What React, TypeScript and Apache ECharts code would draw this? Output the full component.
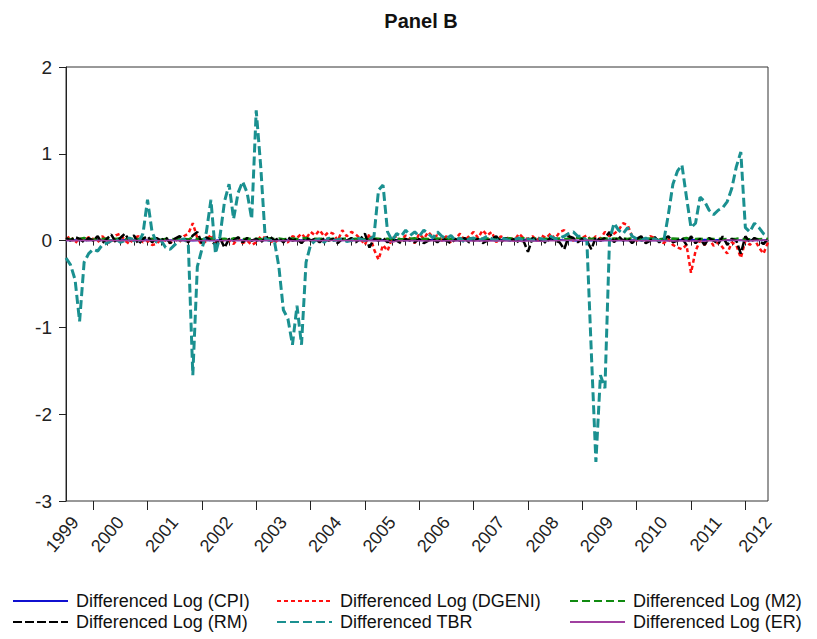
import React, { useEffect, useRef } from "react";
import * as echarts from "echarts";

// Monthly observations, July 1999 .. June 2012 (156 months)
const START_YEAR = 1999;
const START_MONTH = 7;
const N_MONTHS = 156;
const months: string[] = [];
for (let i = 0; i < N_MONTHS; i++) {
  const m0 = START_MONTH - 1 + i;
  const y = START_YEAR + Math.floor(m0 / 12);
  const m = (m0 % 12) + 1;
  months.push(`${y}-${m < 10 ? "0" + m : m}`);
}

const cpi = [
  0.004, 0.006, 0.005, 0.003, 0.007, 0.005,
  0.008, 0.006, 0.004, 0.005, 0.003, 0.002, 0.004, 0.006, 0.005, 0.003, 0.004, 0.006,
  0.005, 0.004, 0.002, 0.003, 0.006, 0.004, 0.003, 0.005, 0.007, 0.004, 0.002, 0.003,
  0.004, 0.006, 0.003, 0.002, 0.004, 0.005, 0.003, 0.004, 0.006, 0.005, 0.003, 0.004,
  0.005, 0.007, 0.004, 0.003, 0.002, 0.004, 0.005, 0.003, 0.006, 0.004, 0.005, 0.006,
  0.006, 0.005, 0.007, 0.004, 0.006, 0.008, 0.005, 0.004, 0.006, 0.007, 0.005, 0.004,
  0.006, 0.008, 0.005, 0.004, 0.006, 0.005, 0.007, 0.006, 0.008, 0.005, 0.004, 0.006,
  0.005, 0.004, 0.006, 0.007, 0.005, 0.004, 0.003, 0.005, 0.006, 0.004, 0.005, 0.007,
  0.006, 0.005, 0.007, 0.008, 0.006, 0.009, 0.010, 0.008, 0.007, 0.009, 0.011, 0.010,
  0.012, 0.010, 0.013, 0.011, 0.014, 0.012, 0.010, 0.008, 0.005, 0.003, 0.001, -0.002,
  0.002, 0.003, 0.001, 0.004, 0.002, 0.003, 0.004, 0.002, 0.003, 0.005, 0.004, 0.003,
  0.005, 0.004, 0.006, 0.003, 0.005, 0.004, 0.006, 0.005, 0.004, 0.006, 0.007, 0.005,
  0.006, 0.008, 0.007, 0.009, 0.006, 0.005, 0.007, 0.006, 0.005, 0.004, 0.006, 0.005,
  0.004, 0.005, 0.006, 0.004, 0.003, 0.005,
];

const dgeni = [
  0.02, 0.05, -0.03, 0.03, 0.0, 0.04,
  0.02, -0.02, 0.05, 0.0, -0.03, 0.06, 0.08, 0.0, -0.04, 0.03, 0.05, -0.02,
  0.0, -0.05, -0.04, 0.02, 0.0, -0.03, 0.02, -0.02, 0.05, 0.08, 0.2, 0.03,
  -0.05, 0.0, 0.07, -0.02, -0.03, 0.02, 0.0, -0.04, 0.03, -0.03, 0.0, -0.05,
  -0.02, 0.05, 0.03, 0.0, -0.03, 0.02, 0.0, -0.02, 0.05, 0.03, 0.08, 0.02,
  0.1, 0.06, 0.12, 0.05, 0.1, 0.08, 0.0, 0.12, 0.05, 0.1, 0.07, 0.02,
  -0.05, 0.08, -0.1, -0.22, -0.05, -0.12, 0.03, 0.05, 0.0, 0.06, 0.02, -0.03,
  0.08, 0.02, 0.1, 0.04, 0.06, 0.0, 0.05, -0.03, 0.02, 0.08, 0.0, 0.05,
  0.1, 0.03, 0.12, 0.06, 0.1, -0.02, 0.05, 0.02, 0.04, 0.0, 0.08, 0.03,
  0.02, 0.05, 0.0, 0.06, 0.03, 0.08, 0.02, 0.1, 0.12, 0.05, 0.0, 0.04,
  0.03, 0.06, 0.0, 0.05, 0.02, 0.1, 0.05, 0.08, 0.12, 0.2, 0.18, 0.05,
  0.0, 0.02, -0.02, 0.05, 0.03, 0.0, -0.03, 0.02, -0.05, -0.08, -0.1, -0.05,
  -0.37, -0.12, 0.0, -0.05, 0.02, -0.06, -0.02, -0.08, -0.15, -0.02, -0.05, -0.2,
  0.0, -0.05, 0.02, -0.08, -0.15, -0.02,
];

const m2 = [
  0.02, 0.015, 0.025, 0.018, 0.03, 0.012,
  0.01, 0.022, 0.018, 0.025, 0.015, 0.02, 0.028, 0.012, 0.018, 0.024, 0.016, 0.03,
  0.015, 0.02, 0.025, 0.012, 0.018, 0.022, 0.016, 0.028, 0.02, 0.015, 0.035, 0.018,
  0.012, 0.02, 0.025, 0.015, 0.018, 0.022, 0.01, 0.026, 0.02, 0.016, 0.024, 0.018,
  0.022, 0.015, 0.02, 0.028, 0.018, 0.024, 0.016, 0.02, 0.025, 0.018, 0.022, 0.03,
  0.015, 0.02, 0.018, 0.025, 0.016, 0.022, 0.02, 0.018, 0.024, 0.015, 0.02, 0.028,
  0.012, 0.018, 0.025, 0.02, 0.015, 0.022, 0.018, 0.024, 0.016, 0.02, 0.022, 0.026,
  0.015, 0.02, 0.018, 0.022, 0.025, 0.016, 0.02, 0.018, 0.024, 0.02, 0.016, 0.03,
  0.018, 0.022, 0.02, 0.025, 0.018, 0.024, 0.016, 0.02, 0.026, 0.018, 0.022, 0.028,
  0.015, 0.02, 0.024, 0.018, 0.022, 0.016, 0.02, 0.025, 0.018, 0.022, 0.03, 0.035,
  0.025, 0.03, 0.02, 0.028, 0.022, 0.026, 0.018, 0.024, 0.02, 0.025, 0.018, 0.03,
  0.015, 0.02, 0.018, 0.025, 0.02, 0.016, 0.022, 0.018, 0.024, 0.02, 0.022, 0.03,
  0.012, 0.018, 0.022, 0.016, 0.02, 0.018, 0.024, 0.015, 0.02, 0.018, 0.022, 0.028,
  0.01, 0.016, 0.02, 0.015, 0.018, 0.02,
];

const rm = [
  0.03, 0.0, 0.04, 0.02, -0.02, 0.03,
  0.0, 0.05, -0.03, 0.02, 0.07, -0.02, 0.03, 0.08, 0.0, 0.06, -0.04, 0.02,
  0.05, -0.02, 0.03, 0.0, 0.04, -0.03, 0.02, 0.05, 0.03, -0.02, 0.06, 0.1,
  -0.03, 0.04, 0.0, -0.05, 0.03, -0.08, 0.02, 0.0, 0.04, -0.02, 0.03, 0.0,
  0.02, -0.02, 0.03, 0.05, 0.0, 0.03, -0.02, 0.04, 0.0, 0.02, -0.03, 0.03,
  0.0, 0.02, -0.02, 0.03, 0.0, 0.02, -0.03, 0.02, 0.0, 0.03, -0.02, 0.02,
  0.08, -0.08, 0.02, 0.0, 0.03, -0.02, 0.02, 0.0, -0.03, 0.02, 0.0, -0.02,
  0.02, -0.03, 0.0, 0.02, -0.02, 0.03, 0.0, -0.03, 0.02, 0.0, 0.03, -0.02,
  0.0, 0.02, -0.03, 0.0, 0.02, 0.05, -0.02, 0.03, 0.0, 0.02, -0.02, 0.0,
  -0.13, 0.03, 0.0, 0.02, -0.03, 0.04, 0.0, -0.02, -0.1, 0.05, 0.03, -0.02,
  0.02, 0.0, -0.1, 0.04, 0.0, 0.03, 0.1, -0.02, 0.05, 0.0, 0.03, -0.03,
  0.02, 0.05, -0.03, 0.0, 0.04, -0.02, 0.02, 0.05, -0.02, 0.0, 0.03, -0.05,
  0.05, -0.03, 0.02, -0.05, 0.03, 0.0, -0.04, 0.05, -0.05, 0.02, 0.0, -0.15,
  0.05, -0.02, 0.03, 0.0, -0.04, 0.02,
];

const tbr = [
  -0.2, -0.28, -0.45, -0.93, -0.25, -0.15,
  -0.1, -0.12, -0.05, -0.03, 0.0, 0.02, -0.02, 0.0, 0.03, 0.0, -0.02, 0.08,
  0.47, 0.1, -0.02, 0.0, -0.08, -0.1, -0.05, 0.0, 0.02, -0.03, -1.55, -0.3,
  -0.1, 0.1, 0.47, -0.15, 0.05, 0.45, 0.65, 0.25, 0.55, 0.68, 0.55, 0.25,
  1.5, 0.85, 0.02, 0.0, 0.0, -0.3, -0.8, -0.9, -1.2, -0.75, -1.2, -0.25,
  -0.05, 0.0, 0.02, -0.02, 0.03, 0.0, 0.01, 0.02, -0.01, 0.0, 0.03, 0.02,
  0.0, 0.02, 0.05, 0.58, 0.64, 0.1, 0.0, 0.08, 0.05, 0.12, 0.06, 0.1,
  0.05, 0.12, 0.08, 0.03, 0.1, 0.05, 0.02, 0.06, 0.0, 0.03, -0.02, 0.02,
  0.03, 0.0, 0.02, 0.05, 0.02, 0.0, 0.03, 0.02, 0.0, 0.01, 0.03, 0.0,
  0.02, 0.0, 0.03, 0.02, 0.0, 0.05, 0.02, 0.03, 0.05, 0.08, 0.1, 0.05,
  0.05, 0.0, -1.3, -2.55, -1.55, -1.7, 0.0, 0.2, 0.12, 0.08, 0.15, 0.05,
  0.02, 0.0, 0.03, 0.0, 0.02, 0.0, 0.0, 0.3, 0.65, 0.8, 0.87, 0.5,
  0.15, 0.2, 0.5, 0.45, 0.35, 0.3, 0.35, 0.38, 0.45, 0.6, 0.85, 1.02,
  0.15, 0.1, 0.2, 0.15, 0.08, 0.05,
];

const er = [
  0.0, 0.002, -0.001, 0.001, 0.0, -0.002,
  0.001, 0.0, 0.003, -0.001, 0.002, 0.0, -0.002, 0.001, 0.003, 0.0, 0.002, -0.001,
  0.002, 0.001, 0.0, -0.002, 0.001, 0.003, 0.0, 0.002, -0.001, 0.001, 0.004, 0.0,
  -0.002, 0.001, 0.0, 0.002, -0.003, 0.001, 0.0, -0.002, 0.003, 0.0, -0.001, 0.002,
  0.0, -0.002, 0.001, 0.0, -0.004, -0.002, 0.0, -0.003, -0.001, -0.005, 0.0, -0.002,
  0.001, 0.0, -0.002, 0.001, 0.0, 0.002, -0.001, 0.0, 0.001, -0.002, 0.0, -0.003,
  -0.002, 0.0, -0.001, 0.001, -0.003, 0.0, -0.02, -0.004, 0.0, -0.002, 0.001, -0.001,
  -0.003, -0.001, -0.004, -0.002, 0.0, -0.005, -0.003, -0.002, -0.004, -0.001, -0.003, -0.006,
  -0.004, -0.003, -0.005, -0.002, -0.004, -0.006, -0.003, -0.005, -0.004, -0.007, -0.005, -0.008,
  -0.006, -0.004, -0.008, -0.007, -0.005, -0.003, -0.002, 0.0, 0.005, 0.003, 0.008, 0.004,
  0.002, 0.005, 0.003, 0.001, -0.002, 0.0, 0.002, -0.001, 0.0, 0.001, -0.002, 0.0,
  0.0, -0.001, 0.002, -0.003, 0.0, -0.002, -0.001, -0.004, -0.002, -0.005, -0.003, -0.006,
  -0.004, -0.002, -0.005, -0.007, -0.003, -0.002, -0.004, 0.0, 0.01, 0.006, 0.003, 0.008,
  -0.004, -0.003, 0.002, 0.004, 0.006, 0.002,
];

const NAMES = {
  cpi: "Differenced Log (CPI)",
  dgeni: "Differenced Log (DGENI)",
  m2: "Differenced Log (M2)",
  rm: "Differenced Log (RM)",
  tbr: "Differenced TBR",
  er: "Differenced Log (ER)",
};

const FONT = "'Liberation Sans', Arial, Helvetica, sans-serif";

const monthOf = (idx: number) => ((START_MONTH - 1 + idx) % 12) + 1;

export default function App() {
  const ref = useRef<HTMLDivElement>(null);
  useEffect(() => {
    if (!ref.current) return;
    const chart = echarts.init(ref.current, undefined, { renderer: "svg" });
    const mk = (name: string, data: number[], color: string, type: any, width: number) => ({
      name,
      type: "line",
      data,
      xAxisIndex: 0,
      symbol: "none",
      showSymbol: false,
      lineStyle: { color, width, type },
      itemStyle: { color },
      emphasis: { disabled: true },
      z: 2,
    });
    const legendBase = {
      orient: "vertical",
      top: 592,
      height: 47,
      padding: 0,
      itemGap: 3,
      itemWidth: 55,
      itemHeight: 14,
      itemStyle: { color: "rgba(0,0,0,0)", borderColor: "rgba(0,0,0,0)", borderWidth: 0, opacity: 0 },
      textStyle: { fontSize: 18, fontFamily: FONT, color: "#111", padding: [0, 0, 0, 3] },
      selectedMode: false,
    };
    chart.setOption({
      animation: false,
      backgroundColor: "#fff",
      title: {
        text: "Panel B",
        left: 416,
        textAlign: "center",
        top: 6,
        textStyle: { fontSize: 20, fontWeight: "bold", fontFamily: FONT, color: "#111" },
      },
      grid: { left: 66, right: 49, top: 67, bottom: 138, show: true, borderColor: "#333", borderWidth: 1 },
      legend: [
        { ...legendBase, left: 12, data: [NAMES.cpi, NAMES.rm] },
        { ...legendBase, left: 276, data: [NAMES.dgeni, NAMES.tbr] },
        { ...legendBase, left: 569, data: [NAMES.m2, NAMES.er] },
      ],
      xAxis: [
        {
          type: "category",
          data: months,
          boundaryGap: false,
          position: "bottom",
          axisLine: { show: true, lineStyle: { color: "#222", width: 1 } },
          axisTick: { show: true, length: 5, interval: (idx: number) => (monthOf(idx) - 1) % 3 === 0, lineStyle: { color: "#222" } },
          axisLabel: {
            show: true,
            rotate: 50,
            margin: 18,
            fontSize: 18,
            fontFamily: FONT,
            color: "#222",
            interval: (idx: number) =>
              idx === 2 || idx === N_MONTHS - 1 || (idx > 0 && monthOf(idx) === 7),
            formatter: (v: string) => v.slice(0, 4),
          },
          splitLine: { show: false },
        },
        {
          type: "category",
          data: months,
          boundaryGap: false,
          position: "bottom",
          offset: 0,
          axisLine: { show: false },
          axisTick: { show: true, length: 9, interval: (idx: number) => monthOf(idx) === 1, lineStyle: { color: "#222" } },
          axisLabel: { show: false },
          splitLine: { show: false },
        },
      ],
      yAxis: {
        type: "value",
        min: -3,
        max: 2,
        interval: 1,
        axisLine: { show: true, lineStyle: { color: "#222", width: 1 } },
        axisTick: { show: true, length: 7, lineStyle: { color: "#222" } },
        axisLabel: { fontSize: 19, fontFamily: FONT, color: "#222", margin: 14 },
        splitLine: { show: false },
      },
      series: [
        mk(NAMES.cpi, cpi, "#1010d0", "solid", 2),
        mk(NAMES.dgeni, dgeni, "#ff1010", [4, 3], 2.5),
        mk(NAMES.m2, m2, "#108a10", [8, 4], 2.5),
        mk(NAMES.rm, rm, "#000000", [9, 3], 2.5),
        mk(NAMES.tbr, tbr, "#1a9090", [9, 4], 3),
        mk(NAMES.er, er, "#a040a0", "solid", 1.5),
      ],
    });
    return () => chart.dispose();
  }, []);
  return (
    <div
      ref={ref}
      style={{ position: "fixed", left: 0, top: 0, width: 817, height: 639, background: "#fff" }}
    />
  );
}
